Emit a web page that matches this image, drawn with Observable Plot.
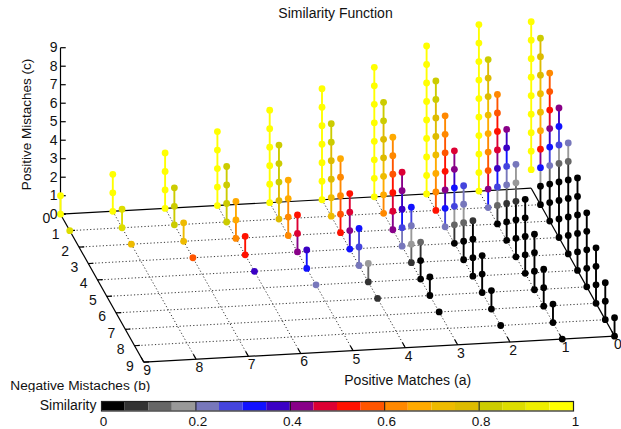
<!DOCTYPE html>
<html><head><meta charset="utf-8">
<script src="https://cdn.jsdelivr.net/npm/d3@7"></script>
<script src="https://cdn.jsdelivr.net/npm/@observablehq/plot@0.6"></script>
<style>
html,body{margin:0;padding:0;background:#fff}
svg{display:block;background:#fff}
</style></head><body><div id="chart"></div>
<script>
// Similarity (hundredths) for each column: a -> b -> c = 0,1,2,...
const y = 97; // top (yellow) band reading, repeated on the b = 0 columns
const sim_a0 = [[null,y,y,y,y,y,y,y,y,y],[2,2,32,52,67,72,72,77,77,82],[2,2,2,22,32,42,52,57,62],[2,2,2,2,12,27,32,42],[2,2,2,2,2,12,22],[2,2,2,2,2,2],[2,2,2,2,2],[2,2,2,2],[2,2,2],[2,2]];
const sim_a1 = [[y,y,y,y,y,y,y,y,y,y],[22,42,57,62,67,72,77,77,82],[2,12,27,37,47,52,57,62],[2,2,7,22,27,37,42],[2,2,2,7,17,22],[2,2,2,2,2],[2,2,2,2],[2,2,2],[2,2],[2]];
const sim_a2 = [[y,y,y,y,y,y,y,y,y],[52,62,67,72,77,77,82,82],[22,32,42,52,57,62,62],[2,12,27,32,42,47],[2,2,12,22,27],[2,2,2,7],[2,2,2],[2,2],[2]];
const sim_a3 = [[y,y,y,y,y,y,y,y],[62,67,72,77,77,82,82],[42,47,52,57,62,67],[22,27,37,42,47],[7,17,22,32],[2,2,12],[2,2],[2]];
const sim_a4 = [[y,y,y,y,y,y,y],[72,72,77,77,82,82],[52,57,62,62,67],[32,42,47,52],[22,27,32],[7,17],[7]];
const sim_a5 = [[y,y,y,y,y,y],[77,77,82,82,82],[62,62,67,67],[42,47,52],[32,37],[22]];
const sim_a6 = [[y,y,y,y,y],[82,82,82,82],[62,67,67],[52,52],[37]];
const sim_a7 = [[y,y,y,y],[82,82,82],[72,72],[57]];
const sim_a8 = [[y,y,y],[87,87],[72]];
const sim_a9 = [[y,y],[87]];
const columns = [sim_a0,sim_a1,sim_a2,sim_a3,sim_a4,sim_a5,sim_a6,sim_a7,sim_a8,sim_a9];

const axisTicks = [0,1,2,3,4,5,6,7,8,9];
const barTicks = [0,0.2,0.4,0.6,0.8,1];
const palette = ["#000000","#333333","#666666","#999999","#7777bb","#4444dd","#1111ff","#3a00c4","#880088","#dd0033",
                 "#ff1100","#ff5500","#ff8800","#ffaa00","#eebb00","#ddbb00","#cccc00","#dddd00","#eeee00","#ffff00"];
const thresholds = palette.slice(1).map((_, i) => (i + 1) * 0.05);

// Gnuplot's oblique view of the (a, b, c) box
const px = (a, b) => 530.7 - 52.3 * a + 9.26 * b;
const py = (a, b, c = 0) => 187.7 + 2.89 * a + 16.44 * b - 18.5 * c;

const dots = [], segs = [];
for (let a = 9; a >= 0; a--) columns[a].forEach((col, b) => col.forEach((v, c) => {
  if (v == null) return;
  const s = v / 100;
  dots.push({a, b, c, s});
  if (c > 0 && col[c - 1] != null) segs.push({a, b, c, s: (s + col[c - 1] / 100) / 2});
}));

const colorScale = {type: "threshold", domain: thresholds, range: palette};
const font = {fontFamily: "'Liberation Sans', Arial, sans-serif", fontSize: "14px"};
const ink = "#111";
const inner = axisTicks.slice(1, 9);
const lnk = (data, o) => Plot.link(data, {markerEnd: "none", ...o});

const main = Plot.plot({
  width: 621, height: 392, margin: 0, style: font,
  x: {domain: [0, 621], range: [0, 621], axis: null},
  y: {domain: [0, 392], range: [0, 392], axis: null},
  color: colorScale,
  marks: [
    // dotted floor grid
    lnk(inner, {x1: b => px(9, b), y1: b => py(9, b), x2: b => px(0, b), y2: b => py(0, b), stroke: "#222", strokeWidth: 0.9, strokeDasharray: "1.2,2.2"}),
    lnk(inner, {x1: a => px(a, 0), y1: a => py(a, 0), x2: a => px(a, 9), y2: a => py(a, 9), stroke: "#222", strokeWidth: 0.9, strokeDasharray: "1.2,2.2"}),
    // box outline
    lnk([[9,0,0,0],[0,0,0,9],[0,9,9,9],[9,9,9,0]], {x1: d => px(d[0], d[1]), y1: d => py(d[0], d[1]), x2: d => px(d[2], d[3]), y2: d => py(d[2], d[3]), stroke: "#000", strokeWidth: 1.2}),
    // tick marks
    lnk(axisTicks, {x1: b => px(9, b), y1: b => py(9, b), x2: b => px(8.9, b), y2: b => py(8.9, b), stroke: "#000", strokeWidth: 1.2}),
    lnk(axisTicks, {x1: a => px(a, 9), y1: a => py(a, 9), x2: a => px(a, 8.7), y2: a => py(a, 8.7), stroke: "#000", strokeWidth: 1.2}),
    // c axis
    lnk([9], {x1: () => px(9, 0), y1: () => py(9, 0, 0), x2: () => px(9, 0), y2: () => py(9, 0, 9), stroke: "#000", strokeWidth: 1.2}),
    lnk(axisTicks, {x1: () => px(9, 0), y1: c => py(9, 0, c), x2: () => px(8.9, 0), y2: c => py(9, 0, c), stroke: "#000", strokeWidth: 1.2}),
    // impulses and points
    lnk(segs, {x1: d => px(d.a, d.b), y1: d => py(d.a, d.b, d.c - 1), x2: d => px(d.a, d.b), y2: d => py(d.a, d.b, d.c), stroke: d => d.s, strokeWidth: 1.9}),
    Plot.dot(dots, {x: d => px(d.a, d.b), y: d => py(d.a, d.b, d.c), r: 3.4, fill: d => d.s}),
    // tick labels
    Plot.text(axisTicks, {x: c => px(9, 0), y: c => py(9, 0, c), text: c => String(c), textAnchor: "end", dx: -3, dy: 0, fill: ink}),
    Plot.text(axisTicks, {x: b => px(9, b), y: b => py(9, b), text: b => String(b), dx: -14, dy: 4, fill: ink}),
    Plot.text(axisTicks, {x: a => px(a, 9), y: a => py(a, 9), text: a => String(a), dx: 3.3, dy: 8.5, fill: ink}),
    // titles
    Plot.text(["Similarity Function"], {frameAnchor: "top", dx: 24.5, dy: 8, text: d => d, fill: ink}),
    Plot.text(["Positive Matches (a)"], {x: () => px(4.5, 9), y: () => py(4.5, 9), dx: 28.5, dy: 31, text: d => d, fill: ink}),
    Plot.text(["Negative Mistaches (b)"], {x: () => px(9, 9), y: () => py(9, 9), dx: -63.5, dy: 23, fontSize: 13.7, text: d => d, fill: ink}),
    Plot.text(["Positive Mistaches (c)"], {x: () => px(9, 0), y: () => py(9, 0, 4.85), dx: -33.5, rotate: -90, fontSize: 13.5, text: d => d, fill: ink})
  ]
});

const levels = palette.map((c, i) => ({lo: i * 0.05, hi: (i + 1) * 0.05, mid: (i + 0.5) * 0.05}));
const bar = Plot.plot({
  width: 621, height: 37, marginLeft: 101, marginRight: 48, marginTop: 9, marginBottom: 18.5, style: font,
  x: {domain: [0, 1]},
  y: {domain: [0, 1], axis: null},
  color: colorScale,
  marks: [
    Plot.rect(levels, {x1: "lo", x2: "hi", y1: 0, y2: 1, fill: "mid"}),
    Plot.ruleX(barTicks.slice(1, 5), {stroke: "#111", strokeWidth: 1}),
    Plot.frame({stroke: "#222", strokeWidth: 1.2}),
    Plot.axisX(barTicks, {anchor: "bottom", tickSize: 0, tickPadding: 5, dx: 2, label: null, tickFormat: d => String(d), fontSize: "13.5px", fill: ink}),
    Plot.text(["Similarity"], {x: () => 0, frameAnchor: "middle", textAnchor: "end", dx: -5, dy: -1, text: d => d, fill: ink})
  ]
});

const root = document.getElementById("chart");
root.append(main, bar);
</script></body></html>
